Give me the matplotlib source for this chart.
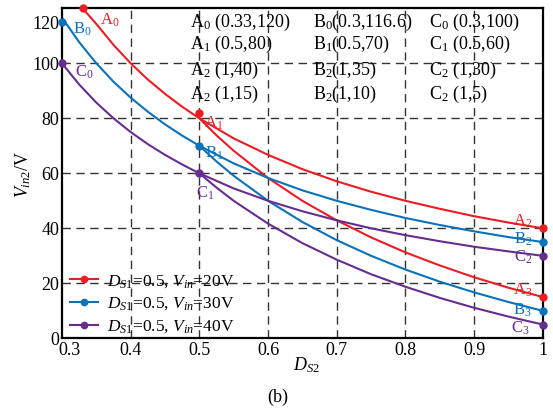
import matplotlib
matplotlib.use("Agg")
import matplotlib.pyplot as plt
import matplotlib.transforms as mtransforms

plt.rcParams['font.family'] = ['Liberation Serif', 'DejaVu Serif']
plt.rcParams['mathtext.fontset'] = 'custom'
plt.rcParams['mathtext.rm'] = 'Liberation Serif'
plt.rcParams['mathtext.it'] = 'Liberation Serif:italic'

# upper curves (D_S2 from start to 1)
xa_up = [0.33, 0.35, 0.375, 0.4, 0.425, 0.45, 0.475, 0.5, 0.55, 0.6, 0.65, 0.7, 0.75, 0.8, 0.85, 0.9, 0.95, 1.0]
ya_up = [120, 114.3, 106.7, 100, 94.1, 88.9, 84.2, 80, 72.7, 66.7, 61.5, 57.1, 53.3, 50, 47.1, 44.4, 42.1, 40]
xbc_up = [0.3, 0.325, 0.35, 0.375, 0.4, 0.425, 0.45, 0.475, 0.5, 0.55, 0.6, 0.65, 0.7, 0.75, 0.8, 0.85, 0.9, 0.95, 1.0]
yb_up = [116.6, 107.7, 100, 93.3, 87.5, 82.4, 77.8, 73.7, 70, 63.6, 58.3, 53.8, 50, 46.7, 43.75, 41.2, 38.9, 36.8, 35]
yc_up = [100, 92.3, 85.7, 80, 75, 70.6, 66.7, 63.2, 60, 54.5, 50, 46.2, 42.9, 40, 37.5, 35.3, 33.3, 31.6, 30]

# lower curves (from D_S2 = 0.5)
x_low = [0.5, 0.525, 0.55, 0.6, 0.65, 0.7, 0.75, 0.8, 0.85, 0.9, 0.95, 1.0]
ya_low = [80, 73.8, 68.2, 58.3, 50, 42.9, 36.7, 31.25, 26.5, 22.2, 18.4, 15]
yb_low = [70, 64.3, 59.1, 50, 42.3, 35.7, 30, 25, 20.6, 16.7, 13.2, 10]
yc_low = [60, 54.8, 50, 41.7, 34.6, 28.6, 23.3, 18.75, 14.7, 11.1, 7.9, 5]

# marked points
xa_pts = [0.33, 0.5, 1.0, 1.0]
ya_pts = [120, 82, 40, 15]
xb_pts = [0.3, 0.5, 1.0, 1.0]
yb_pts = [115, 70, 35, 10]
xc_pts = [0.3, 0.5, 1.0, 1.0]
yc_pts = [100, 60, 30, 5]

legend_labels = [r'$D_{S\mathrm{1}}$=0.5, $V_{in}$=20V',
                 r'$D_{S\mathrm{1}}$=0.5, $V_{in}$=30V',
                 r'$D_{S\mathrm{1}}$=0.5, $V_{in}$=40V']

notes_a = ['A$_0$ (0.33,120)', 'A$_1$ (0.5,80)', 'A$_2$ (1,40)', 'A$_2$ (1,15)']
notes_b = ['B$_0$(0.3,116.6)', 'B$_1$(0.5,70)', 'B$_2$(1,35)', 'B$_2$(1,10)']
notes_c = ['C$_0$ (0.3,100)', 'C$_1$ (0.5,60)', 'C$_2$ (1,30)', 'C$_2$ (1,5)']

RED = '#ed1c24'
BLUE = '#0a72ba'
PURPLE = '#662d91'

fig = plt.figure(figsize=(5.53, 4.13), dpi=100)
ax = fig.add_axes([0.1121, 0.1809, 0.8693, 0.799])

lw = 1.5
ms = 5
ax.plot(xa_up, ya_up, color=RED, lw=lw)
ax.plot(x_low, ya_low, color=RED, lw=lw)
ax.plot(xbc_up, yb_up, color=BLUE, lw=lw)
ax.plot(x_low, yb_low, color=BLUE, lw=lw)
ax.plot(xbc_up, yc_up, color=PURPLE, lw=lw)
ax.plot(x_low, yc_low, color=PURPLE, lw=lw)

ax.plot(xa_pts, ya_pts, 'o', color=RED, ms=ms, clip_on=False, zorder=5)
ax.plot(xb_pts, yb_pts, 'o', color=BLUE, ms=ms, clip_on=False, zorder=5)
ax.plot(xc_pts, yc_pts, 'o', color=PURPLE, ms=ms, clip_on=False, zorder=5)

# legend handles
h = []
for c, lab in zip([RED, BLUE, PURPLE], legend_labels):
    h.append(ax.plot([], [], '-o', color=c, lw=lw, ms=4.5, label=lab)[0])
ax.legend(handles=h, loc='lower left', frameon=False, fontsize=12.5,
          handlelength=1.6, handletextpad=0.5, labelspacing=0.35,
          borderaxespad=0.0, bbox_to_anchor=(0.003, -0.012))

ax.set_xlim(0.3, 1.0)
ax.set_ylim(0, 120)
ax.set_xticks([0.3, 0.4, 0.5, 0.6, 0.7, 0.8, 0.9, 1.0])
ax.set_xticklabels(['0.3', '0.4', '0.5', '0.6', '0.7', '0.8', '0.9', '1'])
ax.set_yticks([0, 20, 40, 60, 80, 100, 120])
ax.tick_params(axis='both', length=0, labelsize=13, pad=3)
ax.tick_params(axis='y', pad=2)

# grid only at interior positions
for gx in [0.4, 0.5, 0.6, 0.7, 0.8, 0.9]:
    ax.axvline(gx, color='#333333', lw=1.0, ls=(0, (6, 4)), zorder=1)
for gy in [20, 40, 60, 80, 100]:
    ax.axhline(gy, color='#333333', lw=1.0, ls=(0, (6, 4)), zorder=1)

for s in ax.spines.values():
    s.set_linewidth(1.6)

# nudge first x label and top y label as in the original
dpi_tr = fig.dpi_scale_trans
xl = ax.get_xticklabels()[0]
xl.set_transform(xl.get_transform() + mtransforms.ScaledTranslation(8 / 100, 0, dpi_tr))
yl = ax.get_yticklabels()[-1]
yl.set_transform(yl.get_transform() + mtransforms.ScaledTranslation(0, -14 / 100, dpi_tr))

# point labels
pt_labels = [
    ('A$_0$', 0.369, 115.7, RED), ('B$_0$', 0.330, 112.5, BLUE), ('C$_0$', 0.333, 96.8, PURPLE),
    ('A$_1$', 0.521, 78.3, RED), ('B$_1$', 0.521, 67.4, BLUE), ('C$_1$', 0.509, 52.8, PURPLE),
    ('A$_2$', 0.971, 42.6, RED), ('B$_2$', 0.971, 35.9, BLUE), ('C$_2$', 0.971, 29.3, PURPLE),
    ('A$_3$', 0.971, 17.6, RED), ('B$_3$', 0.971, 10.3, BLUE), ('C$_3$', 0.968, 3.7, PURPLE),
]
for t, x, y, c in pt_labels:
    ax.text(x, y, t, color=c, fontsize=12, ha='center', va='center', zorder=6)

rows_y = [114.8, 107.0, 97.3, 88.5]
for col_x, notes in zip([0.487, 0.665, 0.834], [notes_a, notes_b, notes_c]):
    for y, t in zip(rows_y, notes):
        ax.text(col_x, y, t, fontsize=13, ha='left', va='center', zorder=6)

fig.text(307 / 553, 1 - 365 / 413, r'$D_{S\mathrm{2}}$', fontsize=13, ha='center', va='center')
fig.text(23 / 553, 1 - 174 / 413, r'$V_{in\mathrm{2}}$/V', fontsize=13, ha='center', va='center', rotation=90)
fig.text(278 / 553, 1 - 397 / 413, '(b)', fontsize=13, ha='center', va='center')

fig.savefig('out.png', dpi=100)
